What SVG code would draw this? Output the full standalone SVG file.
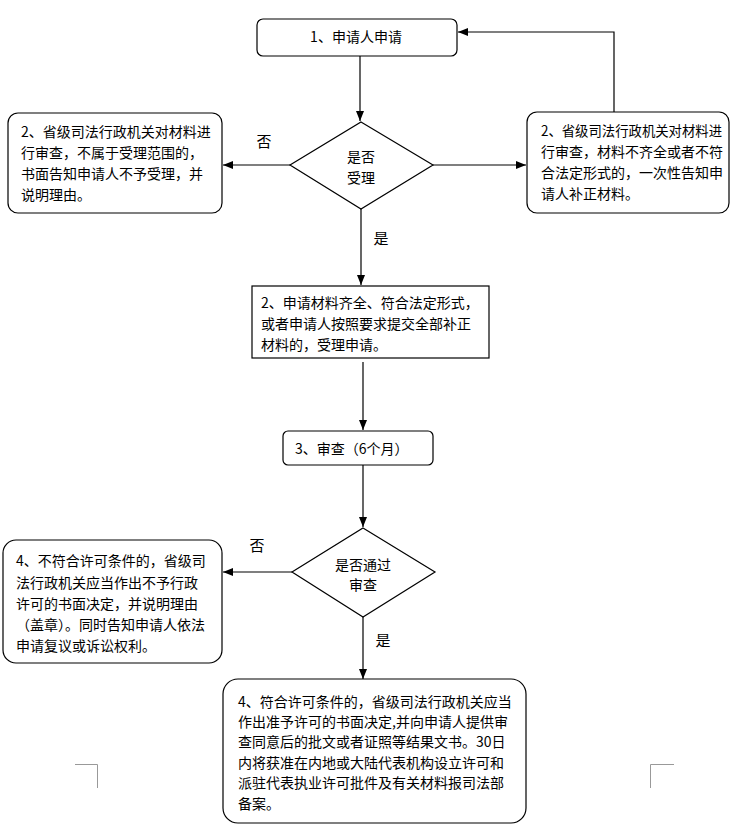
<svg xmlns="http://www.w3.org/2000/svg" width="732" height="836" viewBox="0 0 732 836">
<style>
.box{fill:#fff;stroke:#000;stroke-width:1.2}
.t{font-family:"Noto Sans CJK SC","Noto Sans",sans-serif;font-size:14px;fill:#000}
.lbl{font-family:"Noto Sans CJK SC","Noto Sans",sans-serif;font-size:15px;fill:#000}
.c{stroke:#000;stroke-width:1.2;fill:none;marker-end:url(#ah)}
.mark{stroke:#999;stroke-width:1;fill:none}
</style>
<defs>
<marker id="ah" markerUnits="userSpaceOnUse" markerWidth="10" markerHeight="10" viewBox="0 0 10 10" refX="10" refY="5" orient="auto">
<path d="M0,1 L10,5 L0,9 Z" fill="#000"/>
</marker>
</defs>
<rect width="732" height="836" fill="#fff"/>
<g id="connectors">
<path class="c" d="M360,56 L360,121"/>
<path class="c" d="M290,165 L223,165"/>
<path class="c" d="M433,165 L526,165"/>
<path class="c" d="M614,112 L614,32 L458,32"/>
<path class="c" d="M361,209 L361,285"/>
<path class="c" d="M363,362 L363,430"/>
<path class="c" d="M363,465 L363,527"/>
<path class="c" d="M292,572 L223,572"/>
<path class="c" d="M363,617 L363,679"/>
</g>
<g id="n1">
<rect class="box" x="257" y="19" width="200" height="37" rx="6"/>
<text class="t" x="356" y="42" text-anchor="middle">1、申请人申请</text>
</g>
<g id="d1">
<polygon class="box" points="361,122 433,165 361,209 290,165"/>
<text class="t" x="361" y="162" text-anchor="middle">是否</text>
<text class="t" x="361" y="183" text-anchor="middle">受理</text>
</g>
<g id="n2a">
<rect class="box" x="8" y="113" width="214" height="100" rx="10"/>
<text class="t" x="21" y="137">2、省级司法行政机关对材料进</text>
<text class="t" x="21" y="158">行审查，不属于受理范围的，</text>
<text class="t" x="21" y="179">书面告知申请人不予受理，并</text>
<text class="t" x="21" y="200">说明理由。</text>
</g>
<g id="n2b">
<rect class="box" x="527" y="112" width="202" height="101" rx="10"/>
<text class="t" x="541" y="136" textLength="181" lengthAdjust="spacingAndGlyphs">2、省级司法行政机关对材料进</text>
<text class="t" x="541" y="157">行审查，材料不齐全或者不符</text>
<text class="t" x="541" y="178">合法定形式的，一次性告知申</text>
<text class="t" x="541" y="199">请人补正材料。</text>
</g>
<g id="n2c">
<rect class="box" x="252" y="286" width="237" height="72"/>
<text class="t" x="261" y="308">2、申请材料齐全、符合法定形式，</text>
<text class="t" x="261" y="329">或者申请人按照要求提交全部补正</text>
<text class="t" x="261" y="350">材料的，受理申请。</text>
</g>
<g id="n3">
<rect class="box" x="283" y="431" width="150" height="34" rx="5"/>
<text class="t" x="295" y="454">3、审查（6个月）</text>
</g>
<g id="d2">
<polygon class="box" points="363,528 435,572 363,617 292,572"/>
<text class="t" x="363" y="570" text-anchor="middle">是否通过</text>
<text class="t" x="363" y="590" text-anchor="middle">审查</text>
</g>
<g id="n4a">
<rect class="box" x="3" y="540" width="219" height="123" rx="13"/>
<text class="t" x="16" y="566">4、不符合许可条件的，省级司</text>
<text class="t" x="16" y="588">法行政机关应当作出不予行政</text>
<text class="t" x="16" y="609">许可的书面决定，并说明理由</text>
<text class="t" x="16" y="630">（盖章）。同时告知申请人依法</text>
<text class="t" x="16" y="651">申请复议或诉讼权利。</text>
</g>
<g id="n4b">
<rect class="box" x="223" y="679" width="303" height="144" rx="15"/>
<text class="t" x="238" y="707">4、符合许可条件的，省级司法行政机关应当</text>
<text class="t" x="238" y="727">作出准予许可的书面决定,并向申请人提供审</text>
<text class="t" x="238" y="747">查同意后的批文或者证照等结果文书。30日</text>
<text class="t" x="238" y="768">内将获准在内地或大陆代表机构设立许可和</text>
<text class="t" x="238" y="788">派驻代表执业许可批件及有关材料报司法部</text>
<text class="t" x="238" y="809">备案。</text>
</g>
<g id="labels">
<text class="lbl" x="264" y="147" text-anchor="middle">否</text>
<text class="lbl" x="381" y="244" text-anchor="middle">是</text>
<text class="lbl" x="257" y="551" text-anchor="middle">否</text>
<text class="lbl" x="383" y="646" text-anchor="middle">是</text>
</g>
<g id="marks">
<path class="mark" d="M75,764.5 L97.5,764.5 L97.5,788"/>
<path class="mark" d="M674,764.5 L650.5,764.5 L650.5,788"/>
</g>
</svg>
